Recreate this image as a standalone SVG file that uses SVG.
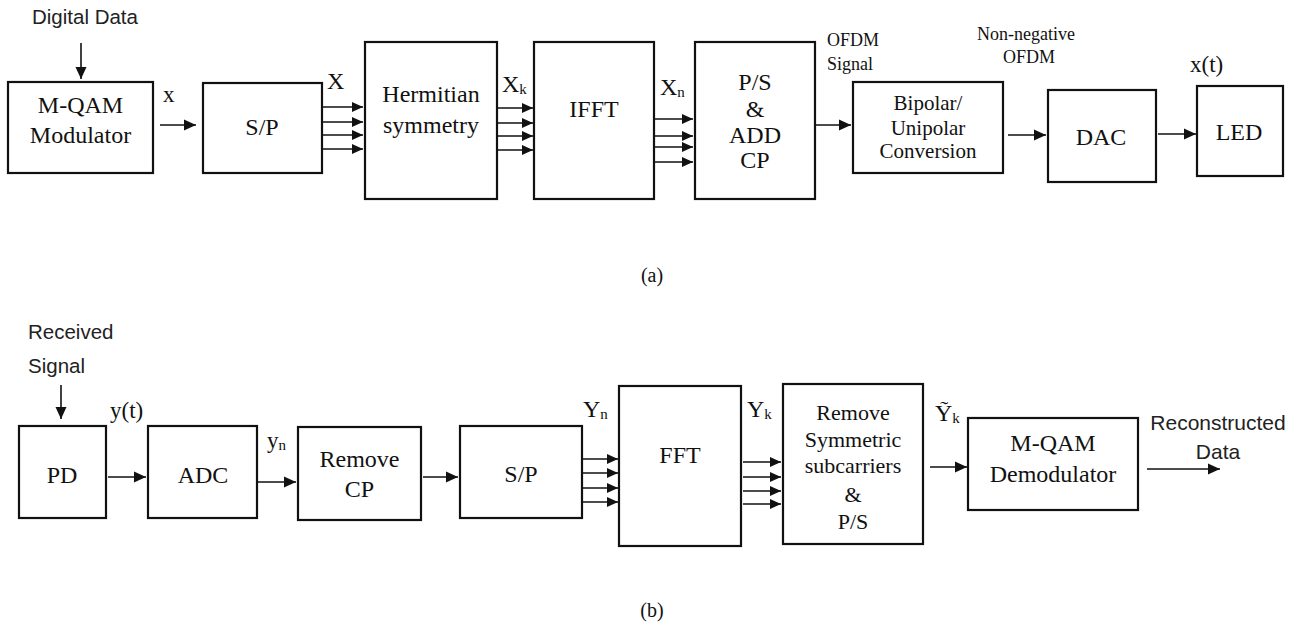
<svg xmlns="http://www.w3.org/2000/svg" width="1298" height="626" viewBox="0 0 1298 626">
<style>
.box{fill:#fff;stroke:#111;stroke-width:2.2}
.t{font-family:"Liberation Serif","Times New Roman",serif;font-size:24px;fill:#111;text-anchor:middle}
.l{font-family:"Liberation Serif","Times New Roman",serif;font-size:23px;fill:#111}
.s{font-family:"Liberation Sans",Arial,sans-serif;font-size:20.5px;fill:#222}
.sm{font-size:18px}
.sub{font-size:15px}
.c line{stroke:#111;stroke-width:1.6;marker-end:url(#ah)}
.c .m{marker-end:url(#ahs)}
</style>
<defs>
<marker id="ah" viewBox="0 0 12 12" refX="12" refY="6" markerWidth="12" markerHeight="12" markerUnits="userSpaceOnUse" orient="auto"><path d="M0,0.5 L12,6 L0,11.5 z" fill="#111"/></marker>
<marker id="ahs" viewBox="0 0 11 11" refX="11" refY="5.5" markerWidth="11" markerHeight="11" markerUnits="userSpaceOnUse" orient="auto"><path d="M0,0.5 L11,5.5 L0,10.5 z" fill="#111"/></marker>
</defs>
<rect width="1298" height="626" fill="#fff"/>

<g font-family="Liberation Serif, Times New Roman, serif">
<!-- (a) transmitter -->
<g id="mqam-mod"><rect class="box" x="8" y="82" width="145" height="91"/><text class="t" x="80.5" y="113">M-QAM</text><text class="t" x="80.5" y="143">Modulator</text></g>
<g id="sp-tx"><rect class="box" x="203" y="83" width="119" height="90"/><text class="t" x="262" y="135">S/P</text></g>
<g id="hermitian"><rect class="box" x="365" y="42" width="132" height="157"/><text class="t" x="431" y="102">Hermitian</text><text class="t" x="431" y="133">symmetry</text></g>
<g id="ifft"><rect class="box" x="534" y="42" width="120" height="157"/><text class="t" x="594" y="117">IFFT</text></g>
<g id="ps-cp"><rect class="box" x="695" y="42" width="120" height="157"/><text class="t" x="755" y="90">P/S</text><text class="t" x="755" y="117">&amp;</text><text class="t" x="755" y="143">ADD</text><text class="t" x="755" y="168">CP</text></g>
<g id="bipolar"><rect class="box" x="853" y="82" width="150" height="91"/><text class="t" x="928" y="110" style="font-size:21px">Bipolar/</text><text class="t" x="928" y="135" style="font-size:21px">Unipolar</text><text class="t" x="928" y="158" style="font-size:21px">Conversion</text></g>
<g id="dac"><rect class="box" x="1048" y="90" width="108" height="92"/><text class="t" x="1101" y="145">DAC</text></g>
<g id="led"><rect class="box" x="1197" y="86" width="86" height="90"/><text class="t" x="1239" y="140">LED</text></g>

<g id="labels-a">
<text class="s" x="32" y="24" font-family="Liberation Sans, Arial, sans-serif">Digital Data</text>
<text class="l" x="163" y="102">x</text>
<text class="l" x="327" y="89" style="font-size:24px">X</text>
<text class="l" x="502" y="92" style="font-size:24px">X<tspan class="sub" dy="2">k</tspan></text>
<text class="l" x="660" y="95" style="font-size:24px">X<tspan class="sub" dy="2">n</tspan></text>
<text class="l sm" x="827" y="46">OFDM</text>
<text class="l sm" x="827" y="70">Signal</text>
<text class="t sm" x="1026" y="40">Non-negative</text>
<text class="t sm" x="1029" y="63">OFDM</text>
<text class="l" x="1190" y="72">x(t)</text>
<text class="t" x="652" y="282" style="font-size:20px">(a)</text>
</g>

<!-- (b) receiver -->
<g id="pd"><rect class="box" x="19" y="426" width="87" height="92"/><text class="t" x="62" y="483">PD</text></g>
<g id="adc"><rect class="box" x="148" y="426" width="109" height="92"/><text class="t" x="203" y="483">ADC</text></g>
<g id="remove-cp"><rect class="box" x="298" y="427" width="123" height="93"/><text class="t" x="359.5" y="467">Remove</text><text class="t" x="359.5" y="497">CP</text></g>
<g id="sp-rx"><rect class="box" x="460" y="426" width="122" height="92"/><text class="t" x="521" y="482">S/P</text></g>
<g id="fft"><rect class="box" x="619" y="386" width="122" height="160"/><text class="t" x="680" y="463">FFT</text></g>
<g id="remove-sym"><rect class="box" x="783" y="384" width="140" height="160"/><text class="t" x="853" y="420" style="font-size:22px">Remove</text><text class="t" x="853" y="447" style="font-size:22px">Symmetric</text><text class="t" x="853" y="473" style="font-size:22px">subcarriers</text><text class="t" x="853" y="502" style="font-size:22px">&amp;</text><text class="t" x="853" y="529" style="font-size:22px">P/S</text></g>
<g id="mqam-demod"><rect class="box" x="968" y="418" width="170" height="92"/><text class="t" x="1053" y="451">M-QAM</text><text class="t" x="1053" y="482">Demodulator</text></g>

<g id="labels-b">
<text class="s" x="28" y="339" font-family="Liberation Sans, Arial, sans-serif">Received</text>
<text class="s" x="28" y="373" font-family="Liberation Sans, Arial, sans-serif">Signal</text>
<text class="l" x="110" y="418">y(t)</text>
<text class="l" x="267" y="448">y<tspan class="sub" dy="2">n</tspan></text>
<text class="l" x="583" y="417" style="font-size:24px">Y<tspan class="sub" dy="2">n</tspan></text>
<text class="l" x="747" y="417" style="font-size:24px">Y<tspan class="sub" dy="2">k</tspan></text>
<text class="l" x="935" y="421" style="font-size:24px">Ỹ<tspan class="sub" dy="2">k</tspan></text>
<text class="s" x="1218" y="430" text-anchor="middle" font-family="Liberation Sans, Arial, sans-serif" style="font-size:21px">Reconstructed</text>
<text class="s" x="1218" y="459" text-anchor="middle" font-family="Liberation Sans, Arial, sans-serif" style="font-size:21px">Data</text>
<text class="t" x="652" y="617" style="font-size:20px">(b)</text>
</g>
</g>

<g id="connectors" class="c">
<line x1="81" y1="43" x2="81" y2="79"/>
<line x1="160" y1="125" x2="196" y2="125"/>
<line class="m" x1="322" y1="107" x2="363" y2="107"/>
<line class="m" x1="322" y1="122" x2="363" y2="122"/>
<line class="m" x1="322" y1="135" x2="363" y2="135"/>
<line class="m" x1="322" y1="149" x2="363" y2="149"/>
<line class="m" x1="497" y1="108" x2="533" y2="108"/>
<line class="m" x1="497" y1="123" x2="533" y2="123"/>
<line class="m" x1="497" y1="136" x2="533" y2="136"/>
<line class="m" x1="497" y1="150" x2="533" y2="150"/>
<line class="m" x1="655" y1="119" x2="693" y2="119"/>
<line class="m" x1="655" y1="136" x2="693" y2="136"/>
<line class="m" x1="655" y1="147" x2="693" y2="147"/>
<line class="m" x1="655" y1="162" x2="693" y2="162"/>
<line x1="815" y1="125" x2="851" y2="125"/>
<line x1="1008" y1="135" x2="1046" y2="135"/>
<line x1="1158" y1="134" x2="1196" y2="134"/>

<line x1="61" y1="385" x2="61" y2="419"/>
<line x1="108" y1="477" x2="146" y2="477"/>
<line x1="258" y1="482" x2="296" y2="482"/>
<line x1="423" y1="477" x2="458" y2="477"/>
<line class="m" x1="582" y1="459" x2="618" y2="459"/>
<line class="m" x1="582" y1="473" x2="618" y2="473"/>
<line class="m" x1="582" y1="488" x2="618" y2="488"/>
<line class="m" x1="582" y1="502" x2="618" y2="502"/>
<line class="m" x1="743" y1="462" x2="781" y2="462"/>
<line class="m" x1="743" y1="477" x2="781" y2="477"/>
<line class="m" x1="743" y1="491" x2="781" y2="491"/>
<line class="m" x1="743" y1="504" x2="781" y2="504"/>
<line x1="930" y1="467" x2="967" y2="467"/>
<line x1="1147" y1="469" x2="1220" y2="469"/>
</g>
</svg>
